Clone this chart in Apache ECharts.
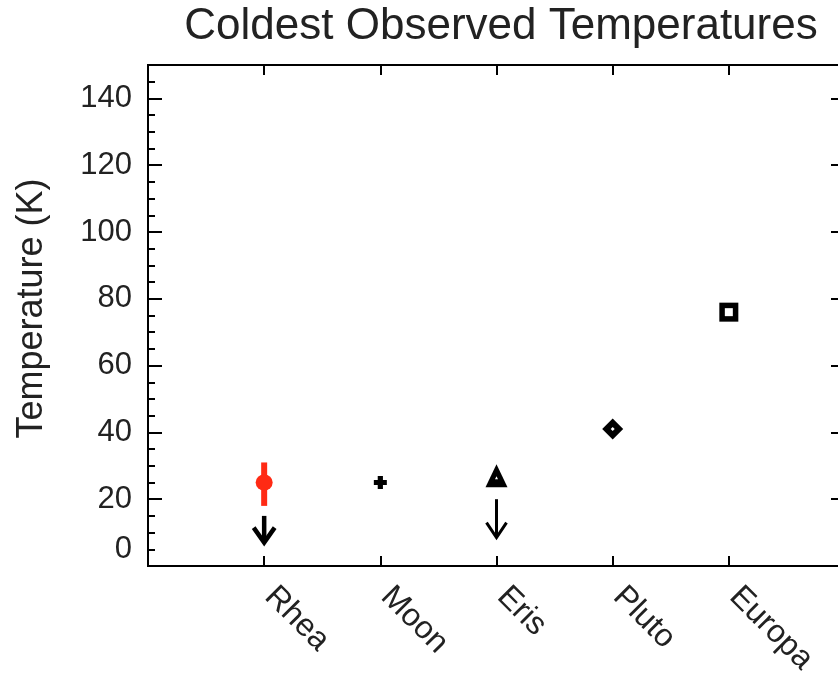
<!DOCTYPE html>
<html>
<head>
<meta charset="utf-8">
<script src="https://cdn.jsdelivr.net/npm/echarts@6/dist/echarts.min.js"></script>
<style>
  html, body { margin: 0; padding: 0; background: #fff; }
  #chart { width: 838px; height: 677px; }
</style>
</head>
<body>
<div id="chart"></div>
<script>
// Bodies and their coldest measured temperatures (K)
const bodies = ['Rhea', 'Moon', 'Eris', 'Pluto', 'Europa'];
const coldestTemp = [25, 25, 27, 41, 76];
// Rhea's measured range (K)
const rheaRange = [18, 31];
// Upper-limit arrows: [body index, start K, tip K]
const limitArrows = [[0, 15, 7], [2, 20, 8.5]];
// Y tick labels and the values they sit at
const yTickValues = [5, 20, 40, 60, 80, 100, 120, 140];
const yTickLabels = ['0', '20', '40', '60', '80', '100', '120', '140'];

const FONT = "'Liberation Sans', Helvetica, Arial, sans-serif";
const INK = '#000';
const TXT = '#222';

const xOf = i => i + 1;
const pt = i => [[xOf(i), coldestTemp[i]]];

const chart = echarts.init(document.getElementById('chart'), null, { renderer: 'canvas' });

const yBase = {
  type: 'value', min: 0, max: 150, splitLine: { show: false }
};
const solid = { onZero: false, show: true, lineStyle: { color: INK, width: 2 } };
const noLine = { onZero: false, show: false };

chart.setOption({
  backgroundColor: '#fff',
  animation: false,
  title: {
    text: 'Coldest Observed Temperatures',
    left: 496, textAlign: 'center', top: 0,
    textStyle: { fontFamily: FONT, fontSize: 44, fontWeight: 'normal', color: TXT }
  },
  grid: {
    left: 148, top: 65, width: 697, height: 501,
    outerBoundsMode: 'none', containLabel: false,
    show: true, borderColor: INK, borderWidth: 2, backgroundColor: 'transparent'
  },
  xAxis: [
    {
      type: 'value', position: 'bottom', min: 0, max: 6, interval: 1,
      splitLine: { show: false },
      axisLine: solid,
      axisTick: { show: true, inside: true, length: 10, lineStyle: { color: INK, width: 2 } },
      axisLabel: {
        show: true, rotate: -45, margin: 20, padding: [0, 0, 0, 8],
        fontFamily: FONT, fontSize: 32, color: TXT,
        formatter: v => (v >= 1 && v <= bodies.length) ? bodies[v - 1] : ''
      }
    },
    {
      type: 'value', position: 'top', min: 0, max: 6, interval: 1,
      splitLine: { show: false },
      axisLine: solid,
      axisTick: { show: true, inside: true, length: 10, lineStyle: { color: INK, width: 2 } },
      axisLabel: { show: false }
    }
  ],
  yAxis: [
    Object.assign({}, yBase, {
      position: 'left', interval: 5,
      axisLine: solid,
      axisTick: { show: true, inside: true, length: 7, lineStyle: { color: INK, width: 2 } },
      axisLabel: {
        show: true, margin: 16, fontFamily: FONT, fontSize: 31, color: TXT,
        formatter: v => {
          const k = yTickValues.indexOf(v);
          return k >= 0 ? yTickLabels[k] : '';
        }
      },
      name: 'Temperature (K)', nameLocation: 'middle', nameGap: 98, nameRotate: 90,
      nameTextStyle: { fontFamily: FONT, fontSize: 36, color: TXT, padding: [0, 0, 0, 14] }
    }),
    Object.assign({}, yBase, {
      position: 'left', interval: 20,
      axisLine: noLine,
      axisTick: { show: true, inside: true, length: 14, lineStyle: { color: INK, width: 2 } },
      axisLabel: { show: false }
    }),
    Object.assign({}, yBase, {
      position: 'right', interval: 20,
      axisLine: solid,
      axisTick: { show: true, inside: true, length: 14, lineStyle: { color: INK, width: 2 } },
      axisLabel: { show: false }
    })
  ],
  series: [
    // Rhea measured range
    {
      type: 'custom', z: 3,
      data: [[xOf(0), rheaRange[0], rheaRange[1]]],
      encode: { x: 0, y: [1, 2] },
      renderItem: (params, api) => {
        const a = api.coord([api.value(0), api.value(1)]);
        const b = api.coord([api.value(0), api.value(2)]);
        return {
          type: 'line',
          shape: { x1: a[0], y1: a[1], x2: b[0], y2: b[1] },
          style: { stroke: '#ff2a14', lineWidth: 6 }
        };
      }
    },
    // Upper-limit arrows
    {
      type: 'custom', z: 3,
      data: limitArrows.map(a => [xOf(a[0]), a[1], a[2]]),
      encode: { x: 0, y: [1, 2] },
      renderItem: (params, api) => {
        const top = api.coord([api.value(0), api.value(1)]);
        const tip = api.coord([api.value(0), api.value(2)]);
        const heavy = params.dataIndex === 0;
        const lw = heavy ? 4.5 : 3;
        const dx = heavy ? 10.5 : 10;
        const dy = 15;
        return {
          type: 'group',
          children: [
            {
              type: 'line',
              shape: { x1: top[0], y1: top[1], x2: tip[0], y2: tip[1] - 1 },
              style: { stroke: INK, lineWidth: lw }
            },
            {
              type: 'polyline',
              shape: { points: [[tip[0] - dx, tip[1] - dy], [tip[0], tip[1]], [tip[0] + dx, tip[1] - dy]] },
              style: { stroke: INK, lineWidth: lw, fill: null, lineJoin: 'miter' }
            }
          ]
        };
      }
    },
    // Rhea
    {
      type: 'scatter', z: 4, data: pt(0), symbol: 'circle', symbolSize: [17, 16],
      itemStyle: { color: '#ff2a14', opacity: 1 }
    },
    // Moon
    {
      type: 'scatter', z: 4, data: pt(1),
      symbol: 'path://M3,0H7V3H10V7H7V10H3V7H0V3H3Z', symbolSize: 13,
      itemStyle: { color: INK, opacity: 1 }
    },
    // Eris
    {
      type: 'scatter', z: 4, data: pt(2), symbol: 'triangle', symbolSize: [22, 23],
      itemStyle: { color: INK, opacity: 1 }
    },
    {
      type: 'scatter', z: 5, data: pt(2), symbol: 'triangle', symbolSize: 3, symbolOffset: [0, 2],
      itemStyle: { color: '#fff', opacity: 1 }
    },
    // Pluto
    {
      type: 'scatter', z: 4, data: pt(3), symbol: 'diamond', symbolSize: 21,
      itemStyle: { color: INK, opacity: 1 }
    },
    {
      type: 'scatter', z: 5, data: pt(3), symbol: 'diamond', symbolSize: 4,
      itemStyle: { color: '#fff', opacity: 1 }
    },
    // Europa
    {
      type: 'scatter', z: 4, data: pt(4), symbol: 'rect', symbolSize: 19,
      itemStyle: { color: INK, opacity: 1 }
    },
    {
      type: 'scatter', z: 5, data: pt(4), symbol: 'rect', symbolSize: 8,
      itemStyle: { color: '#fff', opacity: 1 }
    }
  ]
});
</script>
</body>
</html>
